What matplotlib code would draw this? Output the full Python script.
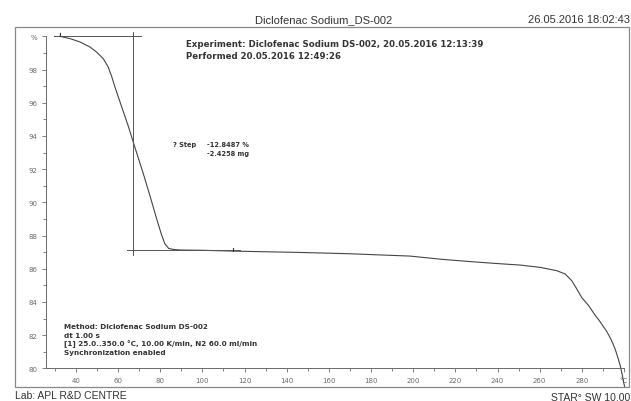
# TGA curve of Diclofenac Sodium DS-002 with the step evaluation

import matplotlib
matplotlib.use('Agg')
import matplotlib.pyplot as plt
from matplotlib.patches import Rectangle

# sample temperature (°C) and residual mass (%)
temps = [32.4, 37.2, 41.9, 46.6, 49.8, 53.0, 55.3, 56.9, 58.5, 60.9, 64.8, 68.0,
         71.9, 75.1, 78.3, 80.6, 82.2, 84.0, 86.2, 89.0, 92.6, 100.0, 114.7, 146.0,
         170.0, 198.5, 214.0, 230.0, 241.0, 250.7, 260.2, 268.1, 272.1, 275.2, 277.6,
         280.0, 283.1, 286.3, 288.7, 291.9, 294.0, 295.8, 297.2, 298.2, 299.2, 299.8, 300.4]
mass = [100.0, 99.86, 99.66, 99.36, 99.05, 98.65, 98.15, 97.6, 96.95, 96.05, 94.6, 93.3,
        91.75, 90.4, 89.0, 88.05, 87.5, 87.22, 87.16, 87.13, 87.12, 87.11, 87.06, 86.98,
        86.90, 86.76, 86.56, 86.40, 86.30, 86.22, 86.08, 85.88, 85.68, 85.28, 84.78,
        84.25, 83.8, 83.20, 82.80, 82.20, 81.70, 81.16, 80.60, 80.16, 79.60, 79.16, 78.85]

# step evaluation: upper and lower baselines, and the inflection line
step_top = 100.0
step_bottom = 87.15
step_top_range = [29.8, 70.9]
step_bottom_range = [64.4, 118.0]
step_temp = 66.9
step_percent = -12.8487
step_mg = -2.4258

y_ticks = [80, 82, 84, 86, 88, 90, 92, 94, 96, 98, 100]
y_labels = ['80', '82', '84', '86', '88', '90', '92', '94', '96', '98', '%']
x_ticks = [40, 60, 80, 100, 120, 140, 160, 180, 200, 220, 240, 260, 280, 300]
x_labels = ['40', '60', '80', '100', '120', '140', '160', '180', '200', '220',
            '240', '260', '280', '°C']

ink = '#333333'
grey = '#6a6a6a'


def main():
    W, H = 631, 402
    fig = plt.figure(figsize=(W / 100, H / 100), dpi=100)

    # outer frame of the printout
    fig.patches.append(Rectangle((15 / W, 1 - 388 / H), 614 / W, 360 / H,
                                 transform=fig.transFigure, fill=False,
                                 edgecolor='#888888', linewidth=0.9))

    ax = fig.add_axes([46 / W, 1 - 369.3 / H, 578 / W, 332 / H])
    ax.patch.set_alpha(0)
    for side in ['top', 'right']:
        ax.spines[side].set_visible(False)
    for side in ['left', 'bottom']:
        ax.spines[side].set_color(grey)
        ax.spines[side].set_linewidth(0.7)

    ax.set_xlim(25.8, 300)
    ax.set_ylim(80, 100)
    ax.set_yticks(y_ticks)
    ax.set_yticklabels(y_labels)
    ax.set_yticks(range(81, 100, 2), minor=True)
    ax.set_xticks(x_ticks)
    ax.set_xticklabels(x_labels)
    ax.set_xticks(range(30, 300, 20), minor=True)
    ax.tick_params(which='major', length=3, width=0.6, color=grey,
                   labelsize=5, labelcolor=grey, pad=3)
    ax.tick_params(which='minor', length=2, width=0.6, color=grey)

    ax.plot(temps, mass, color='#444444', linewidth=0.8, clip_on=False)

    # step evaluation lines
    ax.plot(step_top_range, [step_top, step_top], color='#555555', linewidth=0.7)
    ax.plot(step_bottom_range, [step_bottom, step_bottom], color='#555555', linewidth=0.7)
    ax.plot([step_temp, step_temp], [step_bottom - 0.3, step_top + 0.25],
            color='#555555', linewidth=0.7, clip_on=False)
    ax.plot([32.4, 32.4], [100.0, 100.2], color=ink, linewidth=0.8, clip_on=False)
    ax.plot([114.7, 114.7], [87.06, 87.25], color=ink, linewidth=0.8)

    ax.text(86.0, 93.5, '? Step', fontsize=4.8, fontweight='bold', color=ink, va='center')
    ax.text(102.2, 93.5, '%.4f %%' % step_percent, fontsize=4.8, fontweight='bold',
            color=ink, va='center')
    ax.text(102.2, 92.97, '%.4f mg' % step_mg, fontsize=4.8, fontweight='bold',
            color=ink, va='center')

    ax.text(92.2, 99.54, 'Experiment: Diclofenac Sodium DS-002, 20.05.2016 12:13:39',
            fontsize=6.2, fontweight='bold', color=ink, va='center')
    ax.text(92.2, 98.87, 'Performed 20.05.2016 12:49:26',
            fontsize=6.2, fontweight='bold', color=ink, va='center')

    method = ['Method: Diclofenac Sodium DS-002', 'dt 1.00 s',
              '[1] 25.0..350.0 °C, 10.00 K/min, N2 60.0 ml/min', 'Synchronization enabled']
    for i, line in enumerate(method):
        ax.text(34.2, 82.56 - i * 0.53, line, fontsize=5.2, fontweight='bold',
                color=ink, va='center')

    # header and footer lines of the report
    fig.text(324 / W, 1 - 20 / H, 'Diclofenac Sodium_DS-002', fontsize=8,
             family='Liberation Sans', color=ink, ha='center', va='center')
    fig.text(630 / W, 1 - 20 / H, '26.05.2016 18:02:43', fontsize=8,
             family='Liberation Sans', color=ink, ha='right', va='center')
    fig.text(15 / W, 1 - 396 / H, 'Lab: APL R&D CENTRE', fontsize=7.5,
             family='Liberation Sans', color=ink, ha='left', va='center')
    fig.text(630 / W, 1 - 398 / H, 'STAR° SW 10.00', fontsize=7.5,
             family='Liberation Sans', color=ink, ha='right', va='center')

    fig.savefig('out.png', dpi=100, facecolor='white')


if __name__ == '__main__':
    main()
